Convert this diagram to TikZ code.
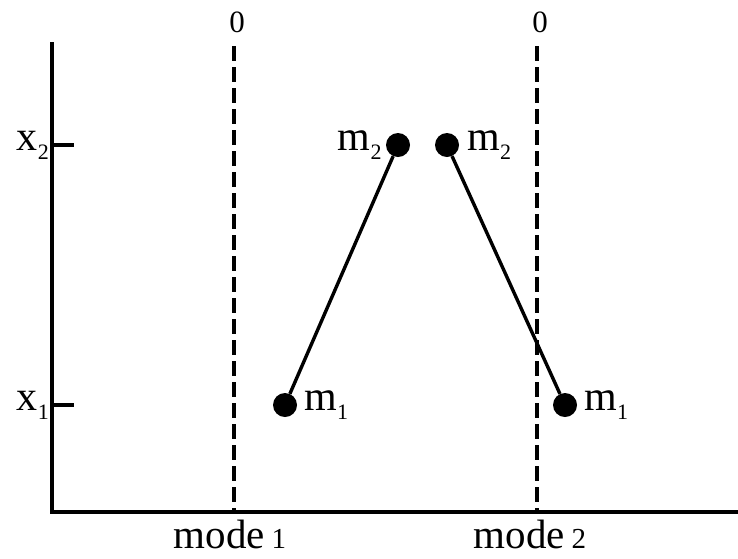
\documentclass[tikz,border=0pt]{standalone}
\usepackage{fontspec}
\setmainfont{Liberation Serif}
\usetikzlibrary{positioning}

\begin{document}
\begin{tikzpicture}[x=1pt, y=-1pt,
        mass/.style={circle, fill=black, inner sep=0pt, minimum size=24pt},
        masslabel/.style={inner sep=0pt, font=\fontsize{42}{44}\selectfont},
        axis/.style={line width=3.4pt},
        modeline/.style={line width=3.2pt, dash pattern=on 15pt off 6pt},
        rod/.style={line width=3.4pt}]
        \useasboundingbox (0,0) rectangle (738,558);

        % axes
        \coordinate (top) at (52,42);
        \coordinate (origin) at (52,512);
        \coordinate (right) at (738,512);
        \draw[axis] (top) -- (origin) -- (right);
        \coordinate (t2) at (52,145);
        \coordinate (t1) at (52,405);
        \draw[axis] (t2) -- ++(22,0);
        \draw[axis] (t1) -- ++(22,0);
        \node[masslabel, left=3pt of t2] (x2) {x\raisebox{-9pt}{\fontsize{22}{22}\selectfont 2}};
        \node[masslabel, left=3pt of t1] (x1) {x\raisebox{-9pt}{\fontsize{22}{22}\selectfont 1}};

        % mode lines
        \coordinate (d1top) at (234,46);
        \coordinate (d1bot) at (234,512);
        \coordinate (d2top) at (537,46);
        \coordinate (d2bot) at (537,512);
        \draw[modeline] (d1top) -- (d1bot);
        \draw[modeline] (d2top) -- (d2bot);
        \node[font=\fontsize{31}{31}\selectfont] (zero1) at (237,22) {0};
        \node[font=\fontsize{31}{31}\selectfont] (zero2) at (540,22) {0};
        \node[masslabel, font=\fontsize{41}{41}\selectfont] (mode1) at (230,534) {mode\,{\fontsize{29}{29}\selectfont 1}};
        \node[masslabel, font=\fontsize{41}{41}\selectfont] (mode2) at (530,534) {mode\,{\fontsize{29}{29}\selectfont 2}};

        % mode 1
        \node[mass] (a2) at (398,145) {};
        \node[mass] (a1) at (285,405) {};
        \draw[rod] (a1) -- (a2);
        \node[masslabel, left=4pt of a2] {m\raisebox{-9pt}{\fontsize{22}{22}\selectfont 2}};
        \node[masslabel, right=7pt of a1] {m\raisebox{-9pt}{\fontsize{22}{22}\selectfont 1}};

        % mode 2
        \node[mass] (b2) at (447,145) {};
        \node[mass] (b1) at (565,405) {};
        \draw[rod] (b1) -- (b2);
        \node[masslabel, right=8pt of b2] {m\raisebox{-9pt}{\fontsize{22}{22}\selectfont 2}};
        \node[masslabel, right=7pt of b1] {m\raisebox{-9pt}{\fontsize{22}{22}\selectfont 1}};
\end{tikzpicture}
\end{document}
